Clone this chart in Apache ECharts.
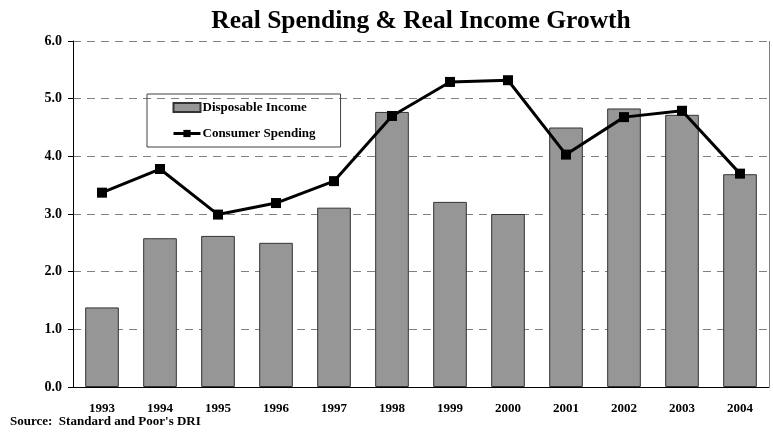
<!DOCTYPE html>
<html>
<head>
<meta charset="utf-8">
<script src="https://cdn.jsdelivr.net/npm/echarts@6/dist/echarts.min.js"></script>
<style>
html,body{margin:0;padding:0;background:#fff;}
#chart{width:773px;height:435px;}
</style>
</head>
<body>
<div id="chart"></div>
<script>
const categories = ['1993','1994','1995','1996','1997','1998','1999','2000','2001','2002','2003','2004'];
const disposableIncome = [1.38, 2.58, 2.62, 2.50, 3.11, 4.77, 3.21, 3.00, 4.50, 4.83, 4.72, 3.69];
const consumerSpending = [3.37, 3.78, 2.99, 3.19, 3.57, 4.70, 5.29, 5.32, 4.03, 4.68, 4.79, 3.70];
const yTicks = [0, 1, 2, 3, 4, 5, 6];

const font = '"Liberation Serif", "Times New Roman", serif';
const chart = echarts.init(document.getElementById('chart'));
chart.setOption({
  animation: false,
  backgroundColor: '#ffffff',
  title: {
    text: 'Real Spending & Real Income Growth',
    left: 416, top: 3, textAlign: 'center',
    textStyle: {fontFamily: font, fontWeight: 'bold', fontSize: 25.5, color: '#000'}
  },
  graphic: [{
    type: 'text', left: 10, top: 415,
    style: {text: "Source:  Standard and Poor's DRI", font: 'bold 13px ' + font, fill: '#000'}
  }, {
    type: 'line', shape: {x1: 769.5, y1: 41, x2: 769.5, y2: 387}, style: {stroke: '#808080', lineWidth: 1}
  }],
  legend: {
    orient: 'vertical', left: 147, top: 94,
    padding: [7, 25, 7, 25],
    itemGap: 13,
    itemWidth: 27, itemHeight: 9,
    borderColor: '#404040', borderWidth: 1,
    textStyle: {fontFamily: font, fontWeight: 'bold', fontSize: 13, color: '#000', padding: [0, 0, 0, -3]},
    data: [
      {name: 'Disposable Income', icon: 'rect'},
      {name: 'Consumer Spending', lineStyle: {width: 3, color: '#000'}}
    ]
  },
  grid: {left: 73, right: 4, top: 41, bottom: 48, containLabel: false},
  xAxis: {
    type: 'category', data: categories,
    axisLine: {lineStyle: {color: '#000', width: 1}},
    axisTick: {show: false},
    axisLabel: {fontFamily: font, fontWeight: 'bold', fontSize: 13, color: '#000', margin: 15}
  },
  yAxis: {
    type: 'value', min: 0, max: 6, interval: 1,
    axisLine: {show: true, lineStyle: {color: '#000', width: 1}},
    axisTick: {show: true, inside: false, length: 5, lineStyle: {color: '#000'}},
    axisLabel: {fontFamily: font, fontWeight: 'bold', fontSize: 14, color: '#000', margin: 11,
      formatter: v => yTicks.includes(v) ? v.toFixed(1) : ''},
    splitLine: {show: true, lineStyle: {color: '#808080', type: [8, 6], width: 1}}
  },
  series: [{
    name: 'Disposable Income', type: 'bar', data: disposableIncome,
    barWidth: '58%',
    itemStyle: {color: '#969696', borderColor: '#333', borderWidth: 1}
  }, {
    name: 'Consumer Spending', type: 'line', data: consumerSpending,
    symbol: 'rect', symbolSize: 10,
    lineStyle: {color: '#000', width: 3},
    itemStyle: {color: '#000'}
  }]
});
</script>
</body>
</html>
